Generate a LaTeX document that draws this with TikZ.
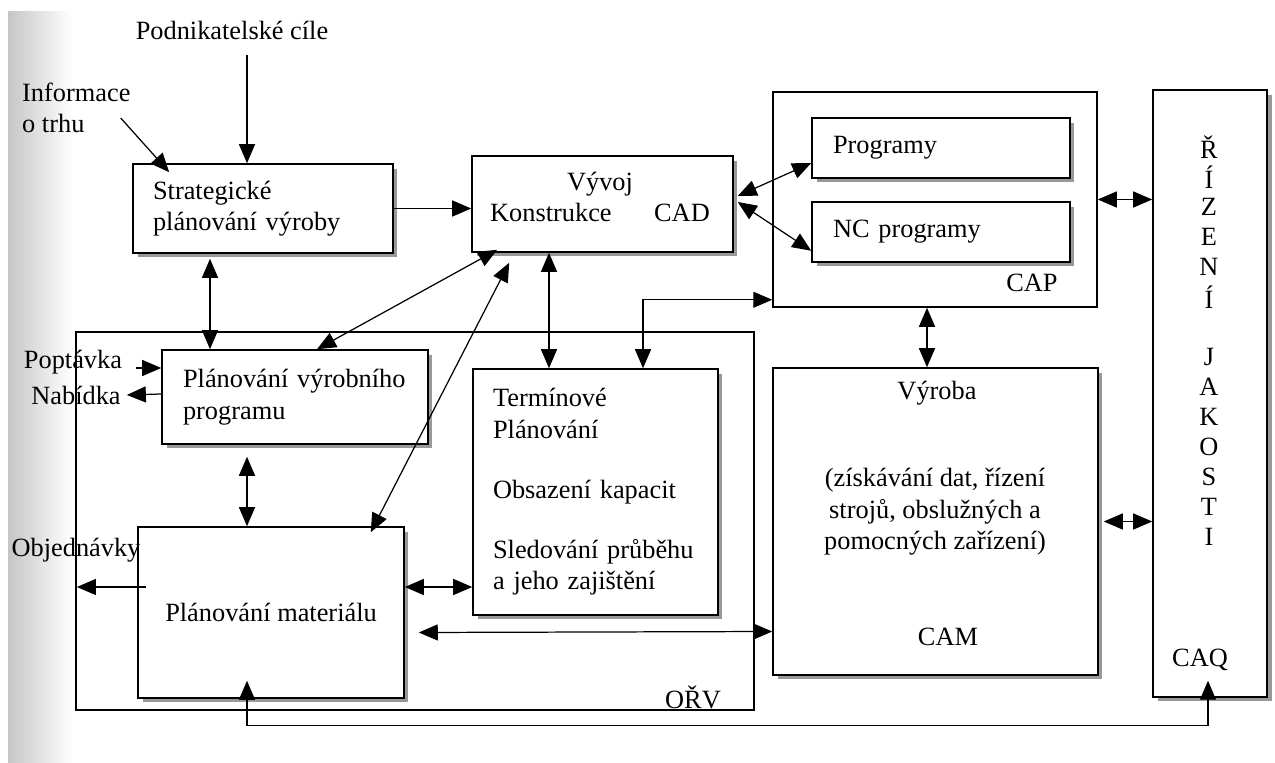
\documentclass[tikz,border=0pt]{standalone}
\usepackage{fontspec}
\setmainfont{Liberation Serif}
\usetikzlibrary{calc, positioning, arrows.meta, shadows}

\begin{document}
\begin{tikzpicture}[x=0.02cm, y=-0.02cm, font=\fontsize{15}{18}\selectfont,
	box/.style={draw, line width=0.9pt, fill=white, inner sep=0pt, drop shadow={shadow xshift=0.09cm, shadow yshift=-0.09cm, fill=gray!80, opacity=1}},
	frame/.style={draw, line width=0.9pt, inner sep=0pt},
	arr/.style={-{Triangle[length=0.38cm, width=0.32cm]}, line width=0.7pt},
	dbl/.style={{Triangle[length=0.38cm, width=0.32cm]}-{Triangle[length=0.38cm, width=0.32cm]}, line width=0.7pt}]
	\useasboundingbox (0,0) rectangle (1275,763);
	\shade[left color=gray!45, right color=white] (8,12) rectangle (72,763);
	
	% outer frames
	\node[frame, line width=1.4pt, minimum width=13.56cm, minimum height=7.56cm] (orv) at (415,521) {};
	\node (orvtext) at (693,697) {OŘV};
	\node[frame, minimum width=6.48cm, minimum height=4.3cm] (cap) at (935,199.5) {};
	\node (captext) at (1032,283) {CAP};
	
	% boxes
	\node[box, minimum width=5.2cm, minimum height=1.78cm, text width=4.4cm, align=left] (strat) at (263,208.5) {Strategické\\plánování výroby};
	\node[box, minimum width=5.22cm, minimum height=1.92cm] (vyvoj) at (602.5,204) {};
	\node[align=center] (vyvojtext) at (600,197) {Vývoj\\Konstrukce\hspace{0.85cm}CAD};
	\node[box, minimum width=5.16cm, minimum height=1.2cm, text width=4.32cm, align=left] (prog) at (941,148) {Programy};
	\node[box, minimum width=5.16cm, minimum height=1.2cm, text width=4.32cm, align=left] (ncprog) at (941,232) {NC programy};
	\node[box, minimum width=5.32cm, minimum height=1.88cm, text width=4.48cm, align=left] (pvp) at (295,397) {Plánování výrobního\\programu};
	\node[box, minimum width=5.32cm, minimum height=3.42cm] (pm) at (271,612.5) {Plánování materiálu};
	\node[box, minimum width=4.9cm, minimum height=4.92cm, text width=4.1cm, align=left] (term) at (595.5,492) {Termínové\\Plánování\\[16pt]Obsazení kapacit\\[16pt]Sledování průběhu\\a jeho zajištění};
	\node[box, minimum width=6.5cm, minimum height=6.14cm] (vyroba) at (935.5,521.5) {};
	\node (vyrobatitle) at (937,393) {Výroba};
	\node[align=center] (vyrobatext) at (935,512) {(získávání dat, řízení\\strojů, obslužných a\\pomocných zařízení)};
	\node (camtext) at (948,637) {CAM};
	\node[box, minimum width=2.28cm, minimum height=12.14cm] (rizeni) at (1210,393.5) {};
	\foreach \ch/\k in {Ř/0, Í/1, Z/2, E/3, N/4, Í/5, J/7, A/8, K/9, O/10, S/11, T/12, I/13}
		\node (letter\k) at (1209,{147+30*\k}) {\ch};
	\node (caq) at (1200,660) {CAQ};
	
	% outside labels
	\node (cile) at (232,30) {Podnikatelské cíle};
	\node[align=left, anchor=west] (info) at (16,108) {Informace\\o trhu};
	\node (poptavka) at (73,362) {Poptávka};
	\node (nabidka) at (76,395) {Nabídka};
	\node (objednavky) at (76,550) {Objednávky};
	
	% connectors
	\draw[arr] ($(cile.south)+(15,10)$) -- ($(strat.north)+(-16,0)$);
	\draw[arr] ($(info.east)+(-16,10)$) -- ($(strat.north west)+(37,9)$);
	\draw[arr] (strat.east) -- (strat.east -| vyvoj.west);
	\draw[dbl] ($(vyvoj.east)+(4,-8)$) -- ($(prog.west)+(0,15)$);
	\draw[dbl] ($(vyvoj.east)+(4,-2)$) -- ($(ncprog.south west)+(0,-12)$);
	\draw[dbl] ($(strat.south)+(-53,5)$) -- ($(pvp.north)+(-85,0)$);
	\draw[dbl] ($(vyvoj.south west)+(26,-3)$) -- ($(pvp.north)+(22,0)$);
	\draw[dbl] ($(vyvoj.south west)+(38,10)$) -- ($(pm.north east)+(-34,6)$);
	\draw[dbl] ($(pvp.south)+(-48,12)$) -- ($(pm.north)+(-24,0)$);
	\draw[dbl] ($(vyvoj.south)+(-53.5,0)$) -- ($(term.north)+(-46.5,0)$);
	\draw[dbl] ($(cap.south west)+(0,-8)$) -| ($(term.north)+(47.5,0)$);
	\draw[dbl] ($(cap.south)+(-8,0)$) -- ($(vyroba.north)+(-8.5,0)$);
	\draw[dbl] (cap.east) -- (cap.east -| rizeni.west);
	\draw[dbl] ($(vyroba.east)+(5,0)$) -- (vyroba.east -| rizeni.west);
	\draw[dbl] ($(pm.east)+(0,-25.5)$) -- ($(term.west)+(0,95)$);
	\draw[dbl] ($(pm.east)+(14,20)$) -- ($(vyroba.west)+(0,110)$);
	\draw[arr] ($(pm.west)+(9,-25.5)$) -- ($(orv.west)+(2,66)$);
	\draw[arr] ($(poptavka.east)+(8,6)$) -- ($(pvp.west)+(0,-29)$);
	\draw[arr] ($(pvp.west)+(0,-3)$) -- (nabidka.east);
	\draw[dbl] ($(pm.south)+(-24,-18)$) |- ($(rizeni.south)+(-2,28)$) -- ($(rizeni.south)+(-2,-17)$);
\end{tikzpicture}
\end{document}
